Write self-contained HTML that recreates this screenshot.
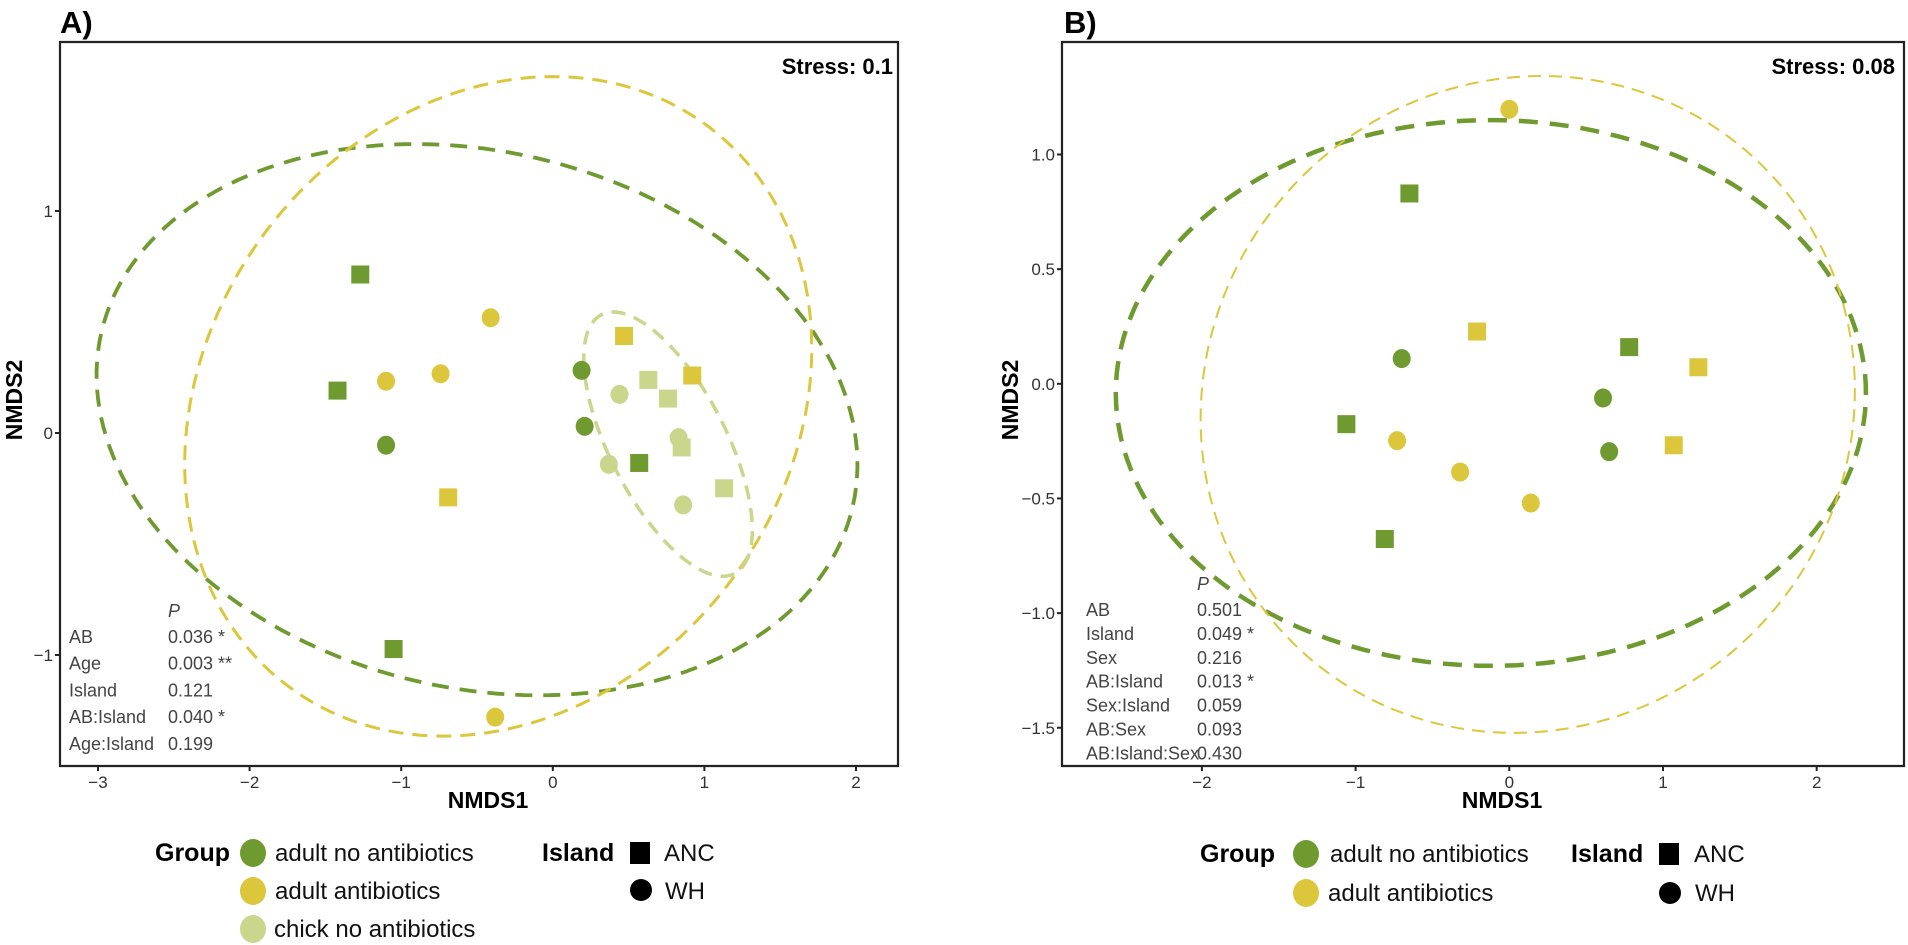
<!DOCTYPE html>
<html><head><meta charset="utf-8"><style>
html,body{margin:0;padding:0;background:#fff;}
svg{display:block;font-family:"Liberation Sans",Arial,sans-serif;}
.tick{font-size:17px;fill:#333;}
.ttl{font-size:23px;font-weight:bold;fill:#000;}
.stat{font-size:18px;fill:#444;}
.leg{font-size:24px;fill:#111;}
</style></head><body>
<svg id="fig" width="1908" height="945" viewBox="0 0 1908 945" xmlns="http://www.w3.org/2000/svg">
<defs>
<clipPath id="clipA"><rect x="60" y="42" width="838" height="724"/></clipPath>
<clipPath id="clipB"><rect x="1062" y="42" width="842" height="724"/></clipPath>
</defs>
<g id="panelA"></g>
<g id="panelB"></g>
</svg>
<script>
// ---- Panel A data ----
const aX = [-1.27,-0.41,-1.42,-1.10,-0.74,-1.10,-0.69,0.19,0.21,0.47,0.44,0.63,0.76,0.92,0.83,0.85,0.57,0.37,0.86,1.13,-1.05,-0.38];
const aY = [0.714,0.519,0.191,0.233,0.267,-0.055,-0.29,0.282,0.030,0.437,0.174,0.239,0.155,0.259,-0.021,-0.065,-0.135,-0.141,-0.324,-0.249,-0.973,-1.28];
const aGroup = ['g','y','g','y','y','g','y','g','g','y','c','c','c','y','c','c','g','c','c','c','g','y'];
const aIsland = ['ANC','WH','ANC','WH','WH','WH','ANC','WH','WH','ANC','WH','ANC','ANC','ANC','WH','ANC','ANC','WH','WH','ANC','ANC','WH'];
const aXTicks = [-3,-2,-1,0,1,2];
const aYTicks = [-1,0,1];
// ellipses: [cx, cy, a, b, angleDeg]
const aEllGreen = [-0.5,0.06,2.52,1.22,-6];
const aEllYellow = [-0.36,0.12,2.1,1.44,13.8];
const aEllChick = [0.76,-0.05,0.74,0.34,-48];
const aStatLabels = ['AB','Age','Island','AB:Island','Age:Island'];
const aStatValues = ['0.036 *','0.003 **','0.121','0.040 *','0.199'];
// ---- Panel B data ----
const bX = [0.00,-0.65,-0.21,-0.70,0.78,1.23,0.61,-1.06,-0.73,0.65,1.07,-0.32,0.14,-0.81];
const bY = [1.197,0.83,0.228,0.11,0.16,0.072,-0.062,-0.176,-0.248,-0.296,-0.268,-0.385,-0.52,-0.677];
const bGroup = ['y','g','y','g','g','y','g','g','y','g','y','y','y','g'];
const bIsland = ['WH','ANC','ANC','WH','ANC','ANC','WH','ANC','WH','WH','ANC','WH','WH','ANC'];
const bXTicks = [-2,-1,0,1,2];
const bYTicks = [-1.5,-1.0,-0.5,0.0,0.5,1.0];
const bEllGreen = [-0.12,-0.04,2.44,1.19,0];
const bEllYellow = [0.12,-0.09,2.13,1.43,3];
const bStatLabels = ['AB','Island','Sex','AB:Island','Sex:Island','AB:Sex','AB:Island:Sex'];
const bStatValues = ['0.501','0.049 *','0.216','0.013 *','0.059','0.093','0.430'];

const COL = {g:'#6e9a2f', y:'#dcc63c', c:'#c9d68c'};
const NS = 'http://www.w3.org/2000/svg';
function mk(parent, tag, attrs, text){
  const e = document.createElementNS(NS, tag);
  for (const k in attrs) e.setAttribute(k, attrs[k]);
  if (text !== undefined) e.textContent = text;
  parent.appendChild(e);
  return e;
}
function ellipsePath(p, sx, sy){
  const [cx,cy,a,b,ang] = p; const r = ang*Math.PI/180; let d='';
  for (let i=0;i<=360;i+=2){
    const t=i*Math.PI/180;
    const x=cx+a*Math.cos(t)*Math.cos(r)-b*Math.sin(t)*Math.sin(r);
    const y=cy+a*Math.cos(t)*Math.sin(r)+b*Math.sin(t)*Math.cos(r);
    d += (i?'L':'M')+sx(x).toFixed(1)+','+sy(y).toFixed(1);
  }
  return d+'Z';
}
function drawPanel(g, cfg){
  const {L,T,R,B,x0,ux,y0,uy} = cfg;
  const sx = v => x0 + v*ux, sy = v => y0 - v*uy;
  const plot = mk(g,'g',{'clip-path':cfg.clip});
  
  
  cfg.ells.forEach(e=>{
    const p = mk(plot,'path',{d:ellipsePath(e.p,sx,sy),fill:'none',stroke:e.c,'stroke-width':e.w,'stroke-dasharray':e.dash});
    
    
  });
  cfg.X.forEach((v,i)=>{
    const cx=sx(v), cy=sy(cfg.Y[i]), col=COL[cfg.G[i]];
    let m;
    if (cfg.I[i]==='ANC') m = mk(plot,'rect',{x:cx-9,y:cy-9,width:18,height:18,fill:col});
    else m = mk(plot,'ellipse',{cx:cx,cy:cy,rx:9,ry:9.5,fill:col});
    
    
  });
  const fr = mk(g,'path',{d:`M${L},${T}H${R}V${B}H${L}Z`,fill:'none',stroke:'#222','stroke-width':2.2});
  
  
  cfg.xt.forEach(v=>{
    mk(g,'line',{x1:sx(v),x2:sx(v),y1:B,y2:B+5,stroke:'#222','stroke-width':2});
    const t = mk(g,'text',{x:sx(v),y:B+22,'text-anchor':'middle',class:'tick'},(v<0?'\u2212':'')+Math.abs(v));
    
    
  });
  cfg.yt.forEach(v=>{
    mk(g,'line',{x1:L-5,x2:L,y1:sy(v),y2:sy(v),stroke:'#222','stroke-width':2});
    const s = cfg.dec ? Math.abs(v).toFixed(1) : String(Math.abs(v));
    const t = mk(g,'text',{x:L-7,y:sy(v)+6,'text-anchor':'end',class:'tick'},(v<0?'\u2212':'')+s);
    
    
  });
  const st = cfg.stat;
  const ph = mk(g,'text',{x:st.vx,y:st.py,class:'stat','font-style':'italic'},'P');
  
  
  st.labels.forEach((lab,i)=>{
    const y = st.y0 + i*st.dy;
    const a = mk(g,'text',{x:st.lx,y:y,class:'stat','font-size':st.fs},lab);
    
    
    const b = mk(g,'text',{x:st.vx,y:y,class:'stat','font-size':st.fs},st.values[i]);
    
    
  });
}
drawPanel(document.getElementById('panelA'),{
  L:60,T:42,R:898,B:766,x0:552.8,ux:151.6,y0:433,uy:222,clip:'url(#clipA)',
  X:aX,Y:aY,G:aGroup,I:aIsland,xt:aXTicks,yt:aYTicks,dec:false,
  ells:[{p:aEllGreen,c:COL.g,w:3.8,dash:'17 11',name:'ellipse-adult-no-antibiotics'},
        {p:aEllYellow,c:COL.y,w:3,dash:'15 9',name:'ellipse-adult-antibiotics'},
        {p:aEllChick,c:COL.c,w:3.5,dash:'14 9',name:'ellipse-chick-no-antibiotics'}],
  stat:{labels:aStatLabels,values:aStatValues,lx:69,vx:168,py:617,y0:643,dy:26.7,fs:19}
});
drawPanel(document.getElementById('panelB'),{
  L:1062,T:42,R:1904,B:766,x0:1509.3,ux:153.7,y0:383.8,uy:229.3,clip:'url(#clipB)',
  X:bX,Y:bY,G:bGroup,I:bIsland,xt:bXTicks,yt:bYTicks,dec:true,
  ells:[{p:bEllGreen,c:COL.g,w:4.5,dash:'19 12',name:'ellipse-adult-no-antibiotics'},
        {p:bEllYellow,c:COL.y,w:2,dash:'13 8',name:'ellipse-adult-antibiotics'}],
  stat:{labels:bStatLabels,values:bStatValues,lx:1086,vx:1197,py:590,y0:616,dy:23.9,fs:17}
});
</script>
<script>
(function(){
const s=document.getElementById('fig');
const html = `
<text x="60" y="33" font-size="31" font-weight="bold">A)</text>
<text x="1064" y="33" font-size="31" font-weight="bold">B)</text>
<text x="893" y="74" text-anchor="end" font-size="22" font-weight="bold">Stress: 0.1</text>
<text x="1895" y="74" text-anchor="end" font-size="22" font-weight="bold">Stress: 0.08</text>
<text x="488" y="808" text-anchor="middle" class="ttl">NMDS1</text>
<text x="1502" y="808" text-anchor="middle" class="ttl">NMDS1</text>
<text transform="translate(22,400) rotate(-90)" text-anchor="middle" class="ttl">NMDS2</text>
<text transform="translate(1018,400) rotate(-90)" text-anchor="middle" class="ttl">NMDS2</text>
<g>
<text x="155" y="861" font-size="25" font-weight="bold">Group</text>
<ellipse cx="253" cy="853" rx="13" ry="14" fill="#6e9a2f"/>
<text x="275" y="861" class="leg">adult no antibiotics</text>
<ellipse cx="253" cy="891" rx="13" ry="14" fill="#dcc63c"/>
<text x="275" y="899" class="leg">adult antibiotics</text>
<ellipse cx="253" cy="929" rx="13" ry="14" fill="#c9d68c"/>
<text x="274" y="937" class="leg">chick no antibiotics</text>
<text x="542" y="861" font-size="25" font-weight="bold">Island</text>
<rect x="630" y="842" width="20" height="22" fill="#000"/>
<text x="664" y="861" class="leg">ANC</text>
<circle cx="641" cy="890" r="11" fill="#000"/>
<text x="665" y="899" class="leg">WH</text>
</g>
<g>
<text x="1200" y="862" font-size="25" font-weight="bold">Group</text>
<ellipse cx="1306" cy="854" rx="13" ry="14" fill="#6e9a2f"/>
<text x="1330" y="862" class="leg">adult no antibiotics</text>
<ellipse cx="1306" cy="893" rx="13" ry="14" fill="#dcc63c"/>
<text x="1328" y="901" class="leg">adult antibiotics</text>
<text x="1571" y="862" font-size="25" font-weight="bold">Island</text>
<rect x="1659" y="843" width="20" height="22" fill="#000"/>
<text x="1694" y="862" class="leg">ANC</text>
<circle cx="1670" cy="893" r="11" fill="#000"/>
<text x="1695" y="901" class="leg">WH</text>
</g>`;
s.insertAdjacentHTML('beforeend', html);
})();
</script>
</body></html>
